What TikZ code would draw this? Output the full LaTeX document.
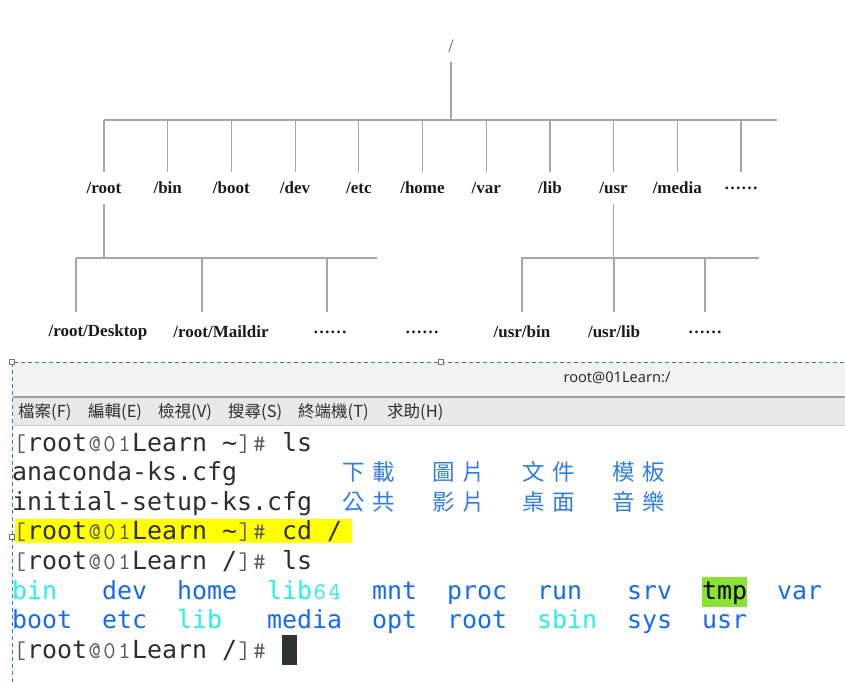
\documentclass[tikz,border=0pt]{standalone}
\usepackage{fontspec}
\usepackage{tikz}
\newfontfamily\dirfont{Liberation Serif}
\newfontfamily\termfont{DejaVu Sans Mono}
\newfontfamily\cjkfont{Noto Sans CJK TC}
\newfontfamily\uifont{Noto Sans}

\definecolor{treeline}{HTML}{A6A6A6}
\definecolor{ink}{HTML}{1A1A1A}
\definecolor{termink}{HTML}{2E2E2E}
\definecolor{faint}{HTML}{5A5A5A}
\definecolor{dirblue}{HTML}{1469FA}
\definecolor{dircyan}{HTML}{22F0F0}
\definecolor{cjkblue}{HTML}{2F7BE8}
\definecolor{tmpgreen}{HTML}{8AE234}
\definecolor{hiyellow}{HTML}{FFFF00}
\definecolor{cursor}{HTML}{2E3436}
\definecolor{titlebg}{HTML}{F2F2F2}
\definecolor{menubg}{HTML}{E8E8E8}
\definecolor{selblue}{HTML}{2C7BD6}

% one terminal cell
\newlength\cellw \setlength\cellw{15bp}
\ExplSyntaxOn
\NewDocumentCommand \cells { m } { \tl_map_inline:nn {#1} { \makebox[\cellw][c]{##1} } }
\NewDocumentCommand \cjkcells { m } { \tl_map_inline:nn {#1} { \makebox[2\cellw][l]{\cjkfont\fontsize{22.5bp}{22.5bp}\selectfont ##1} } }
\ExplSyntaxOff
\newcommand\gap[1]{\hspace*{#1\cellw}}
\newcommand\fc[1]{\makebox[\cellw][c]{\ttfamily\fontsize{24bp}{24bp}\selectfont #1}}
\newcommand\prompt[1]{{\color{faint}\fc{[}}\cells{root}{\color{faint}\fc{@}\fc{0}\fc{1}}%
  \cells{Learn}\gap{1}\cells{#1}{\color{faint}\fc{]}\fc{\#}}\gap{1}}

\tikzstyle{dir}=[font=\dirfont\bfseries\fontsize{17bp}{17bp}\selectfont, text=ink, inner sep=0pt, minimum height=32bp]
\tikzstyle{subdir}=[dir, minimum height=40bp]
\tikzstyle{link}=[draw=treeline, line width=1.2bp]
\tikzstyle{termline}=[font=\termfont\fontsize{24.9bp}{29.6bp}\selectfont, text=termink, inner sep=0pt, anchor=base west]
\tikzstyle{menu}=[font=\cjkfont\fontsize{16.5bp}{16.5bp}\selectfont, text=termink, inner sep=0pt, anchor=west]

\begin{document}
\begin{tikzpicture}[x=1bp, y=-1bp, node distance=63.7bp]
  \useasboundingbox (0,0) rectangle (845,682);

  % directory tree
  \node[dir, text=faint, font=\dirfont\fontsize{19bp}{19bp}\selectfont] (top) at (451,46) {/};
  \node[dir] (root) at (104,188) {/root};
  \node[dir, right of=root] (bin) {/bin};
  \node[dir, right of=bin] (boot) {/boot};
  \node[dir, right of=boot] (dev) {/dev};
  \node[dir, right of=dev] (etc) {/etc};
  \node[dir, right of=etc] (home) {/home};
  \node[dir, right of=home] (var) {/var};
  \node[dir, right of=var] (lib) {/lib};
  \node[dir, right of=lib] (usr) {/usr};
  \node[dir, right of=usr] (media) {/media};
  \node[dir, right of=media] (more) {……};
  \coordinate (bus) at (451,120);
  \coordinate (busend) at (777,120);
  \draw[link] (top) -- (bus);
  \draw[link] (root |- bus) -- (busend);
  \foreach \d in {root,bin,boot,dev,etc,home,var,lib,usr,media,more}
    \draw[link] (\d |- bus) -- (\d.north);

  \node[subdir] (desk) at (98,332) {/root/Desktop};
  \node[subdir] (mail) at (221,332) {/root/Maildir};
  \node[subdir] (rmore) at (330,332) {……};
  \node[subdir] (omore) at (422,332) {……};
  \node[subdir] (ubin) at (522,332) {/usr/bin};
  \node[subdir] (ulib) at (614,332) {/usr/lib};
  \node[subdir] (umore) at (705,332) {……};
  \coordinate (rb1) at (76,258);
  \coordinate (rb2) at (202,258);
  \coordinate (rb3) at (327,258);
  \coordinate (rbend) at (377,258);
  \draw[link] (root) -- (root |- rb1);
  \draw[link] (rb1) -- (rbend);
  \draw[link] (rb1) -- (rb1 |- desk.north);
  \draw[link] (rb2) -- (rb2 |- mail.north);
  \draw[link] (rb3) -- (rb3 |- rmore.north);
  \coordinate (ub) at (521,258);
  \coordinate (ubend) at (759,258);
  \draw[link] (usr) -- (usr |- ub);
  \draw[link] (ub) -- (ubend);
  \foreach \d in {ubin,ulib,umore}
    \draw[link] (\d |- ub) -- (\d.north);

  % terminal window
  \fill[titlebg] (13,363) rectangle (845,397);
  \draw[black!38, line width=1.5bp] (13,397) -- (845,397);
  \fill[menubg] (13,398) rectangle (845,425);
  \draw[black!18] (13,425.5) -- (845,425.5);
  \draw[selblue, dash pattern=on 4bp off 3bp, line width=1bp] (12,682) -- (12,362) -- (845,362);
  \foreach \p in {(12,362),(441,362),(12,537)}
    \draw[black!55, fill=white, line width=0.6bp] \p ++(-2.5,-2.5) rectangle ++(5,5);
  \node[font=\uifont\fontsize{14.6bp}{15bp}\selectfont, text=termink, inner sep=0pt] (title) at (617,378) {root@01Learn:/};
  \node[menu] (m1) at (18,412) {檔案(F)};
  \node[menu] (m2) at (88,412) {編輯(E)};
  \node[menu] (m3) at (158,412) {檢視(V)};
  \node[menu] (m4) at (228,412) {搜尋(S)};
  \node[menu] (m5) at (298,412) {終端機(T)};
  \node[menu] (m6) at (387,412) {求助(H)};

  \fill[hiyellow] (15,519) rectangle (352,543);
  \fill[tmpgreen] (702,577) rectangle (747,607);
  \node[termline] (l1) at (12,451) {\prompt{\textasciitilde}\cells{ls}};
  \node[termline] (l2) at (12,480.6) {\cells{anaconda-ks.cfg}\gap{7}{\color{cjkblue}\cjkcells{下載}\gap{2}\cjkcells{圖片}\gap{2}\cjkcells{文件}\gap{2}\cjkcells{模板}}};
  \node[termline] (l3) at (12,510.2) {\cells{initial-setup-ks.cfg}\gap{2}{\color{cjkblue}\cjkcells{公共}\gap{2}\cjkcells{影片}\gap{2}\cjkcells{桌面}\gap{2}\cjkcells{音樂}}};
  \node[termline] (l4) at (12,539.8) {\prompt{\textasciitilde}\cells{cd}\gap{1}\cells{/}};
  \node[termline] (l5) at (12,569.4) {\prompt{/}\cells{ls}};
  \node[termline, text=dirblue] (l6) at (12,599) {{\color{dircyan}\cells{bin}}\gap{3}\cells{dev}\gap{2}\cells{home}\gap{2}{\color{dircyan}\cells{lib}\fc{6}\fc{4}}\gap{2}\cells{mnt}\gap{2}\cells{proc}\gap{2}\cells{run}\gap{3}\cells{srv}\gap{2}{\color{black}\cells{tmp}}\gap{2}\cells{var}};
  \node[termline, text=dirblue] (l7) at (12,628.6) {\cells{boot}\gap{2}\cells{etc}\gap{2}{\color{dircyan}\cells{lib}}\gap{3}\cells{media}\gap{2}\cells{opt}\gap{2}\cells{root}\gap{2}{\color{dircyan}\cells{sbin}}\gap{2}\cells{sys}\gap{2}\cells{usr}};
  \node[termline] (l8) at (12,658.2) {\prompt{/}{\color{cursor}\rule[-7bp]{\cellw}{30bp}}};
\end{tikzpicture}
\end{document}
